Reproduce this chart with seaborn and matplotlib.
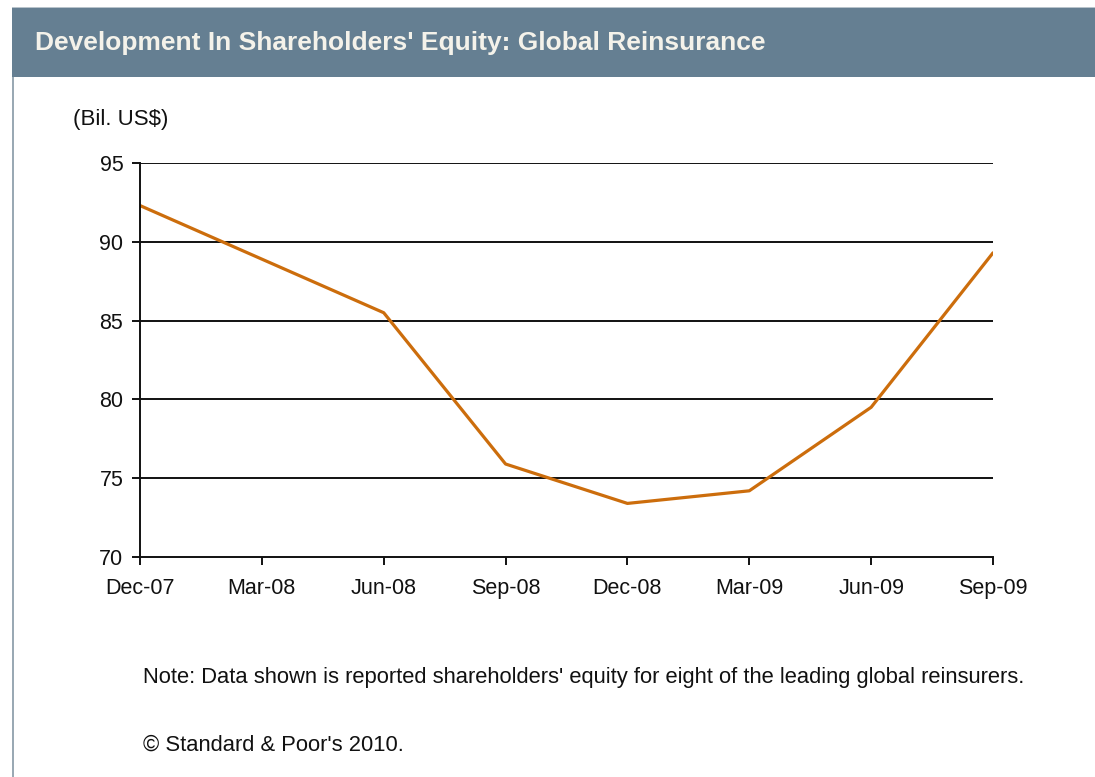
import matplotlib
matplotlib.use("Agg")
import matplotlib.pyplot as plt
from matplotlib.patches import Rectangle
import pandas as pd
import seaborn as sns

# values
quarters = ["Dec-07", "Mar-08", "Jun-08", "Sep-08", "Dec-08", "Mar-09", "Jun-09", "Sep-09"]
equity = [92.3, 88.9, 85.5, 75.9, 73.4, 74.2, 79.5, 89.3]
y_ticks = [70, 75, 80, 85, 90, 95]

title = "Development In Shareholders' Equity: Global Reinsurance"
unit_label = "(Bil. US$)"
note = "Note: Data shown is reported shareholders' equity for eight of the leading global reinsurers."
copyright_line = "\u00a9 Standard & Poor's 2010."

df = pd.DataFrame({"quarter": quarters, "equity": equity})

sns.set_theme(style="white")
plt.rcParams["font.family"] = ["Liberation Sans", "DejaVu Sans"]

W, H = 1095, 777
fig = plt.figure(figsize=(W / 100, H / 100), dpi=100)
fig.patch.set_facecolor("white")

# panel frame and header band
fig.patches.append(Rectangle((12 / W, 0), 2 / W, 1 - 7 / H, transform=fig.transFigure,
                             facecolor="#9aa9b4", edgecolor="none"))
fig.patches.append(Rectangle((12 / W, 1 - 77 / H), 1 - 12 / W, 70 / H, transform=fig.transFigure,
                             facecolor="#657f92", edgecolor="none"))
fig.patches.append(Rectangle((12 / W, 1 - 8 / H), 1 - 12 / W, 1.5 / H, transform=fig.transFigure,
                             facecolor="#b8c3cb", edgecolor="none"))
fig.text(35 / W, 1 - 43 / H, title, color="#f4f2ea", fontsize=19, fontweight="bold",
         va="center", ha="left")

ax = fig.add_axes([140 / W, 1 - 557 / H, (993 - 140) / W, (557 - 163) / H])
sns.lineplot(data=df, x="quarter", y="equity", ax=ax, color="#cc6d0c", linewidth=2.3,
             sort=False)

ax.set_xlim(0, len(quarters) - 1)
ax.set_ylim(70, 95)
ax.set_yticks(y_ticks)
ax.set_xticks(range(len(quarters)))
ax.set_xticklabels(quarters)
ax.set_xlabel("")
ax.set_ylabel("")

for y in y_ticks[1:]:
    ax.axhline(y, color="#111111", linewidth=1.4, zorder=0)

for side in ["top", "right"]:
    ax.spines[side].set_visible(False)
for side in ["left", "bottom"]:
    ax.spines[side].set_color("#111111")
    ax.spines[side].set_linewidth(1.4)

ax.tick_params(axis="both", which="major", direction="out", length=6, width=1.4,
               color="#111111", labelsize=15.5, labelcolor="#111111", left=True, bottom=True)
ax.tick_params(axis="y", pad=6)
ax.tick_params(axis="x", pad=9)

fig.text(73 / W, 1 - 119 / H, unit_label, fontsize=16, color="#111111", va="center", ha="left")
fig.text(143 / W, 1 - 677 / H, note, fontsize=15.8, color="#111111", va="center", ha="left")
fig.text(143 / W, 1 - 745 / H, copyright_line, fontsize=15.8, color="#111111", va="center", ha="left")

fig.savefig("out.png", dpi=100)
